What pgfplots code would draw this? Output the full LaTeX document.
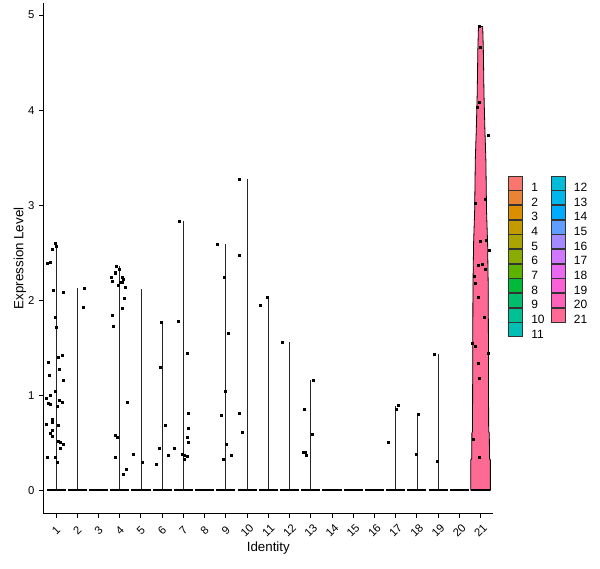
\documentclass[border=0pt]{standalone}
\usepackage{pgfplots}
\pgfplotsset{compat=1.18}
\usepackage{pgfplotstable}
\usepackage{fontspec}
\setmainfont{Liberation Sans}

% ggplot hue palette, 21 identities
\definecolor{c1}{HTML}{F8766D}
\definecolor{c2}{HTML}{EB8335}
\definecolor{c3}{HTML}{DB8E00}
\definecolor{c4}{HTML}{C39A00}
\definecolor{c5}{HTML}{AAA300}
\definecolor{c6}{HTML}{8AAC00}
\definecolor{c7}{HTML}{5BB300}
\definecolor{c8}{HTML}{00BA38}
\definecolor{c9}{HTML}{00BE6C}
\definecolor{c10}{HTML}{00C094}
\definecolor{c11}{HTML}{00C0B5}
\definecolor{c12}{HTML}{00BCD6}
\definecolor{c13}{HTML}{00B6EB}
\definecolor{c14}{HTML}{00ABFD}
\definecolor{c15}{HTML}{619CFF}
\definecolor{c16}{HTML}{A58AFF}
\definecolor{c17}{HTML}{CF78FF}
\definecolor{c18}{HTML}{EA69F1}
\definecolor{c19}{HTML}{FB61D7}
\definecolor{c20}{HTML}{FF62B8}
\definecolor{c21}{HTML}{FF6A94}

% top of each (collapsed) violin
\pgfplotstableread{
id top
1 2.58
2 2.13
4 2.36
5 2.12
6 1.77
7 2.83
9 2.59
10 3.27
11 2.03
12 1.56
13 1.16
17 0.89
18 0.80
19 1.43
}\toptable

% jittered non-zero cells
\pgfplotstableread{
x y
0.94 2.60
1.02 2.57
0.83 2.54
0.75 2.40
0.59 2.39
0.89 2.10
1.35 2.08
0.94 1.82
1.02 1.71
0.65 1.35
1.27 1.42
1.11 1.40
0.70 1.21
1.17 1.27
1.36 1.16
0.94 1.04
0.55 0.97
0.75 1.00
1.17 0.95
1.27 0.93
0.61 0.91
0.75 0.90
1.06 0.88
0.80 0.75
0.80 0.71
0.56 0.69
1.11 0.68
0.80 0.63
0.75 0.60
0.84 0.57
1.11 0.51
1.19 0.50
1.22 0.44
1.35 0.48
0.59 0.35
0.97 0.35
1.06 0.29
2.35 2.13
2.30 1.93
3.84 2.36
3.97 2.32
3.78 2.29
3.81 2.28
3.61 2.24
4.11 2.24
4.16 2.22
3.66 2.20
4.03 2.19
4.11 2.19
3.95 2.16
4.27 2.14
4.22 2.02
4.13 1.91
3.66 1.84
3.70 1.73
3.77 0.58
3.89 0.56
4.36 0.93
3.81 0.35
4.31 0.22
4.17 0.17
4.65 0.38
5.06 0.29
5.95 1.77
5.92 1.29
6.14 0.68
5.86 0.44
6.28 0.37
5.72 0.27
6.80 2.83
6.78 1.78
7.20 1.44
7.25 0.81
7.25 0.65
7.16 0.56
7.25 0.50
6.59 0.44
6.94 0.38
7.02 0.37
7.02 0.33
7.20 0.36
8.61 2.59
8.94 2.24
9.13 1.65
8.97 1.04
8.78 0.79
9.02 0.48
9.25 0.37
8.87 0.32
9.61 3.27
9.64 2.47
9.61 0.81
9.78 0.61
10.94 2.03
10.64 1.95
11.64 1.56
13.13 1.16
12.69 0.85
13.06 0.59
12.65 0.40
12.73 0.40
12.80 0.37
17.11 0.89
17.05 0.85
16.64 0.50
18.06 0.80
17.97 0.38
18.80 1.43
18.97 0.30
20.96 4.88
20.99 4.66
20.95 4.08
20.82 4.03
21.34 3.74
20.76 3.02
21.20 3.06
20.99 2.62
21.29 2.63
21.39 2.53
20.87 2.37
21.06 2.38
21.24 2.32
20.68 2.25
20.76 2.18
20.87 2.03
21.15 1.82
20.63 1.55
20.73 1.51
21.34 1.44
20.91 1.34
20.96 1.18
20.66 0.54
20.96 0.35
}\ptstable

\begin{document}
\begin{tikzpicture}
\begin{axis}[
    name=main,
    scale only axis,
    width=337.5pt, height=382.5pt,
    xmin=0.4, xmax=21.6,
    ymin=-0.244, ymax=5.124,
    axis x line*=bottom, axis y line*=left,
    axis line style={-, black, line width=0.8pt},
    tick align=outside,
    major tick length=3.2pt,
    tick style={black, line width=0.75pt},
    xtick={1,...,21},
    ytick={0,1,2,3,4,5},
    /pgf/number format/assume math mode=true,
    ticklabel style={font=\fontsize{8.5}{10}\selectfont},
    xticklabel style={font=\fontsize{8.5}{10}\selectfont, inner sep=0pt, anchor=center, yshift=-9.6pt, rotate=45},
    yticklabel style={anchor=east},
    xlabel={Identity},
    ylabel={Expression Level},
    label style={font=\fontsize{10}{12}\selectfont},
    every axis x label/.style={at={(rel axis cs:0.5,0)}, yshift=-26pt, anchor=center},
    every axis y label/.style={at={(rel axis cs:0,0.5)}, xshift=-17.5pt, rotate=90, anchor=center},
    clip=false,
    legend columns=2,
    legend cell align=left,
    legend image code/.code={\draw[#1, draw=black!80, line width=0.5pt] (0pt,-2.1pt) rectangle (10.5pt,8.4pt);},
    legend style={at={(1,0.5)}, anchor=west, xshift=11.25pt, yshift=1pt, draw=none, fill=none,
        inner sep=0pt, outer sep=0pt, row sep=-0.9pt,
        font=\fontsize{9}{10}\selectfont,
        nodes={inner sep=0pt, text height=6.5pt, text depth=0pt},
        /tikz/every odd column/.append style={column sep=6.2pt},
        /tikz/every even column/.append style={column sep=4.8pt}},
]
% identity 21: the only non-degenerate violin
\addplot[forget plot, fill=c21, draw=black, line width=0.6pt] coordinates {
    (21.46,0) (21.46,0.32) (21.42,0.33) (21.41,0.60) (21.38,0.62) (21.37,1.50)
    (21.36,2.14) (21.33,2.60) (21.28,2.94) (21.25,3.47) (21.20,3.82) (21.16,4.17)
    (21.13,4.63) (21.10,4.88) (20.90,4.88) (20.87,4.63) (20.84,4.17) (20.80,3.82)
    (20.75,3.47) (20.72,2.94) (20.67,2.60) (20.64,2.14) (20.63,1.50) (20.62,0.62)
    (20.59,0.60) (20.58,0.33) (20.54,0.32) (20.54,0)
} -- cycle;
% collapsed violins: vertical spikes
\addplot[forget plot, ycomb, mark=none, black!85, line width=0.6pt] table[x=id, y=top] \toptable;
% zero floors
\addplot[forget plot, draw=none, mark=none,
    error bars/.cd, x dir=both, x fixed=0.45, error mark=none,
    error bar style={draw=black, line width=2pt}] coordinates {
    (1,0) (2,0) (3,0) (4,0) (5,0) (6,0) (7,0) (8,0) (9,0) (10,0) (11,0)
    (12,0) (13,0) (14,0) (15,0) (16,0) (17,0) (18,0) (19,0) (20,0) (21,0)
};
% cells
\addplot[forget plot, only marks, mark=square*, mark size=0.75pt, black] table[x=x, y=y] \ptstable;

% legend, filled row-wise so it reads column-wise
\addlegendimage{fill=c1}\addlegendentry{1}
\addlegendimage{fill=c12}\addlegendentry{12}
\addlegendimage{fill=c2}\addlegendentry{2}
\addlegendimage{fill=c13}\addlegendentry{13}
\addlegendimage{fill=c3}\addlegendentry{3}
\addlegendimage{fill=c14}\addlegendentry{14}
\addlegendimage{fill=c4}\addlegendentry{4}
\addlegendimage{fill=c15}\addlegendentry{15}
\addlegendimage{fill=c5}\addlegendentry{5}
\addlegendimage{fill=c16}\addlegendentry{16}
\addlegendimage{fill=c6}\addlegendentry{6}
\addlegendimage{fill=c17}\addlegendentry{17}
\addlegendimage{fill=c7}\addlegendentry{7}
\addlegendimage{fill=c18}\addlegendentry{18}
\addlegendimage{fill=c8}\addlegendentry{8}
\addlegendimage{fill=c19}\addlegendentry{19}
\addlegendimage{fill=c9}\addlegendentry{9}
\addlegendimage{fill=c20}\addlegendentry{20}
\addlegendimage{fill=c10}\addlegendentry{10}
\addlegendimage{fill=c21}\addlegendentry{21}
\addlegendimage{fill=c11}\addlegendentry{11}
\end{axis}
\pgfresetboundingbox
\path ([shift={(-32.5pt,-41pt)}]main.south west) rectangle ([shift={(80pt,2.5pt)}]main.north east);
\end{tikzpicture}
\end{document}
